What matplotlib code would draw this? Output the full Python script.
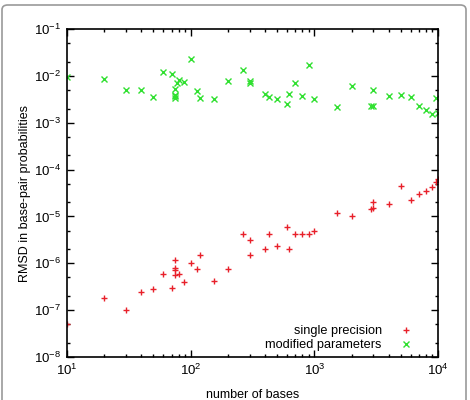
#!/usr/bin/env python3
# RMSD of base-pair probabilities vs. sequence length (log-log scatter)

import matplotlib
matplotlib.use("Agg")
import matplotlib.pyplot as plt
from matplotlib.patches import FancyBboxPatch
from matplotlib.ticker import LogLocator, NullFormatter, FixedLocator
import numpy as np

plt.rcParams['font.family'] = ['Liberation Sans', 'DejaVu Sans']
plt.rcParams['mathtext.fontset'] = 'custom'
plt.rcParams['mathtext.rm'] = 'Liberation Sans'
plt.rcParams['mathtext.it'] = 'Liberation Sans'
plt.rcParams['mathtext.default'] = 'regular'

# single precision (red +)
single_x = [10, 20, 30, 40, 50, 60, 70, 75, 75, 75, 75, 80, 89, 100, 112, 120,
            154, 200, 267, 300, 300, 400, 432, 500, 600, 624, 700, 800, 900,
            1000, 1535, 2000, 2890, 3000, 3000, 4000, 5000, 6000, 7000, 8000,
            9000, 9640, 10000]
single_y = [5.1e-8, 1.8e-7, 1.0e-7, 2.4e-7, 2.8e-7, 5.8e-7, 3.0e-7, 1.2e-6,
            7.8e-7, 7.1e-7, 5.5e-7, 6.0e-7, 4.0e-7, 1.0e-6, 7.6e-7, 1.5e-6,
            4.1e-7, 7.4e-7, 4.2e-6, 3.1e-6, 1.5e-6, 2.06e-6, 4.2e-6, 2.34e-6,
            5.96e-6, 2.0e-6, 4.2e-6, 4.2e-6, 4.3e-6, 4.9e-6, 1.2e-5, 1.04e-5,
            1.42e-5, 2.07e-5, 1.52e-5, 1.87e-5, 4.5e-5, 2.25e-5, 3.06e-5,
            3.5e-5, 4.25e-5, 5.4e-5, 6.4e-5]

# modified parameters (green x)
modified_x = [10, 20, 30, 40, 50, 60, 70, 75, 75, 75, 75, 77.5, 80, 89, 100,
              112, 120, 154, 200, 267, 300, 300, 400, 432, 500, 600, 624, 700,
              800, 900, 1000, 1535, 2000, 2890, 3000, 3000, 4000, 5000, 6000,
              7000, 8000, 9000, 9640, 10000]
modified_y = [0.0095, 0.0084, 0.0049, 0.0049, 0.00354, 0.0121, 0.0108, 0.0052,
              0.0040, 0.0037, 0.0033, 0.0070, 0.0080, 0.0074, 0.0229, 0.0048,
              0.0034, 0.00316, 0.0079, 0.0131, 0.0078, 0.0071, 0.0042, 0.0035,
              0.00316, 0.00247, 0.0042, 0.0069, 0.0037, 0.0168, 0.00316,
              0.00213, 0.0061, 0.00228, 0.00228, 0.0051, 0.0038, 0.0040,
              0.0035, 0.0023, 0.00184, 0.00153, 0.0033, 0.00158]

red = '#e8202a'
green = '#30e030'

fig = plt.figure(figsize=(4.7, 4.0), dpi=100)

# rounded grey frame around the whole figure
frame = FancyBboxPatch((2 / 470, -0.05), 464 / 470, 1.0 - 5 / 400 + 0.05,
                       boxstyle="round,pad=0,rounding_size=0.012",
                       transform=fig.transFigure, facecolor='none',
                       edgecolor='#9a9a9a', linewidth=1.2, clip_on=False)
fig.patches.append(frame)

ax = fig.add_axes([67 / 470, 1 - 357 / 400, (438 - 67) / 470, (357 - 29) / 400])

ax.plot(single_x, single_y, linestyle='none', marker='+', color=red,
        markersize=5, markeredgewidth=1.0, label='single precision')
ax.plot(modified_x, modified_y, linestyle='none', marker='x', color=green,
        markersize=4.5, markeredgewidth=1.0, label='modified parameters')

ax.set_xscale('log')
ax.set_yscale('log')
ax.set_xlim(10, 1e4)
ax.set_ylim(1e-8, 1e-1)

ax.xaxis.set_major_locator(FixedLocator([1e1, 1e2, 1e3, 1e4]))
ax.xaxis.set_minor_locator(LogLocator(base=10, subs=np.arange(2, 10)))
ax.yaxis.set_major_locator(FixedLocator([10.0 ** k for k in range(-8, 0)]))
ax.yaxis.set_minor_locator(LogLocator(base=10, subs=(2, 5)))
ax.xaxis.set_minor_formatter(NullFormatter())
ax.yaxis.set_minor_formatter(NullFormatter())
ax.set_xticklabels([r'$10^{%d}$' % k for k in range(1, 5)])
ax.set_yticklabels([r'$10^{%d}$' % k for k in range(-8, 0)])

ax.tick_params(which='both', direction='in', top=True, right=True,
               labelsize=9.5, width=1.0)
ax.tick_params(which='major', length=5, pad=4)
ax.tick_params(which='minor', length=2.5)
for s in ax.spines.values():
    s.set_linewidth(1.2)

ax.set_xlabel('number of bases', fontsize=9, labelpad=8)
ax.set_ylabel('RMSD in base-pair probabilities', fontsize=9, labelpad=2)

ax.legend(loc='lower right', markerfirst=False, frameon=False, fontsize=9.2,
          handlelength=1.2, handletextpad=1.3, labelspacing=0.12,
          bbox_to_anchor=(0.955, -0.005), borderaxespad=0.2)

fig.savefig('out.png', dpi=100)
